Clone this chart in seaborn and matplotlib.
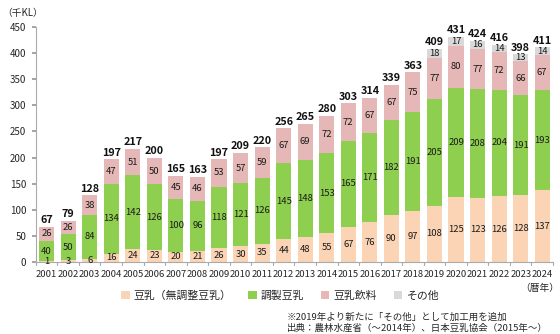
import matplotlib
matplotlib.use("Agg")
import matplotlib.pyplot as plt
import seaborn as sns
import numpy as np
import pandas as pd
from matplotlib.patches import Patch

years = [str(y) for y in range(2001, 2025)]
plain = [1, 3, 6, 16, 24, 23, 20, 21, 26, 30, 35, 44, 48, 55, 67, 76, 90, 97, 108, 125, 123, 126, 128, 137]
prepared = [40, 50, 84, 134, 142, 126, 100, 96, 118, 121, 126, 145, 148, 153, 165, 171, 182, 191, 205, 209, 208, 204, 191, 193]
beverage = [26, 26, 38, 47, 51, 50, 45, 46, 53, 57, 59, 67, 69, 72, 72, 67, 67, 75, 77, 80, 77, 72, 66, 67]
other = [0] * 18 + [18, 17, 16, 14, 13, 14]
totals = [67, 79, 128, 197, 217, 200, 165, 163, 197, 209, 220, 256, 265, 280, 303, 314, 339, 363, 409, 431, 424, 416, 398, 411]

series_names = ["豆乳（無調整豆乳）", "調製豆乳", "豆乳飲料", "その他"]
colors = ["#FAD4B4", "#8FCF4F", "#E5B8B7", "#D9D9D9"]

sns.set_theme(style="white")
plt.rcParams['font.family'] = ['Noto Sans CJK JP', 'DejaVu Sans']

fig = plt.figure(figsize=(5.6, 3.34), dpi=100)
ax = fig.add_axes([0.064, 0.2156, 0.9235, 0.7034])

vals = [plain, prepared, beverage, other]
cum = np.cumsum(np.array(vals), axis=0)
# draw cumulative from top layer down
for i in range(3, -1, -1):
    df = pd.DataFrame({"year": years, "v": cum[i]})
    sns.barplot(data=df, x="year", y="v", color=colors[i], width=0.7,
                saturation=1, ax=ax, linewidth=0, order=years)

# segment labels
for i, s in enumerate(vals):
    base = cum[i] - np.array(s)
    for j, v in enumerate(s):
        if v == 0:
            continue
        ax.text(j, base[j] + v / 2, str(v), ha="center", va="center",
                fontsize=6.8, color="#1a1a1a")
for j, t in enumerate(totals):
    ax.text(j, t + 3, str(t), ha="center", va="bottom", fontsize=7.8,
            fontweight="bold", color="#111111")

ax.set_xlim(-0.5, 23.5)
ax.set_ylim(0, 450)
ax.set_yticks(range(0, 451, 50))
ax.set_xlabel("")
ax.set_ylabel("")
ax.tick_params(axis="y", labelsize=7, length=3, color="#999999", pad=4, direction="out", left=True)
ax.tick_params(axis="x", labelsize=6.8, length=0, pad=6)
for sp in ["top", "right"]:
    ax.spines[sp].set_visible(False)
for sp in ["left", "bottom"]:
    ax.spines[sp].set_color("#aaaaaa")
    ax.spines[sp].set_linewidth(0.8)
# tick marks at category boundaries on x axis
for b in np.arange(-0.5, 24, 1):
    ax.plot([b, b], [0, -5], color="#aaaaaa", lw=0.8, clip_on=False)

fig.text(0.04, 0.962, "（千KL）", fontsize=7, ha="center", va="center")
fig.text(0.963, 0.138, "（暦年）", fontsize=7, ha="center", va="center")

handles = [Patch(facecolor=c, edgecolor="none") for c in colors]
fig.legend(handles, series_names, loc="center", bbox_to_anchor=(0.5, 0.114), ncol=4,
           frameon=False, fontsize=7.8, handlelength=0.8, handleheight=0.8,
           handletextpad=0.4, columnspacing=1.5)

fig.text(0.512, 0.05, "※2019年より新たに「その他」として加工用を追加", fontsize=6.8, ha="left", va="center")
fig.text(0.512, 0.017, "出典：農林水産省（～2014年）、日本豆乳協会（2015年～）", fontsize=6.8, ha="left", va="center")

fig.savefig("out.png", dpi=100)
